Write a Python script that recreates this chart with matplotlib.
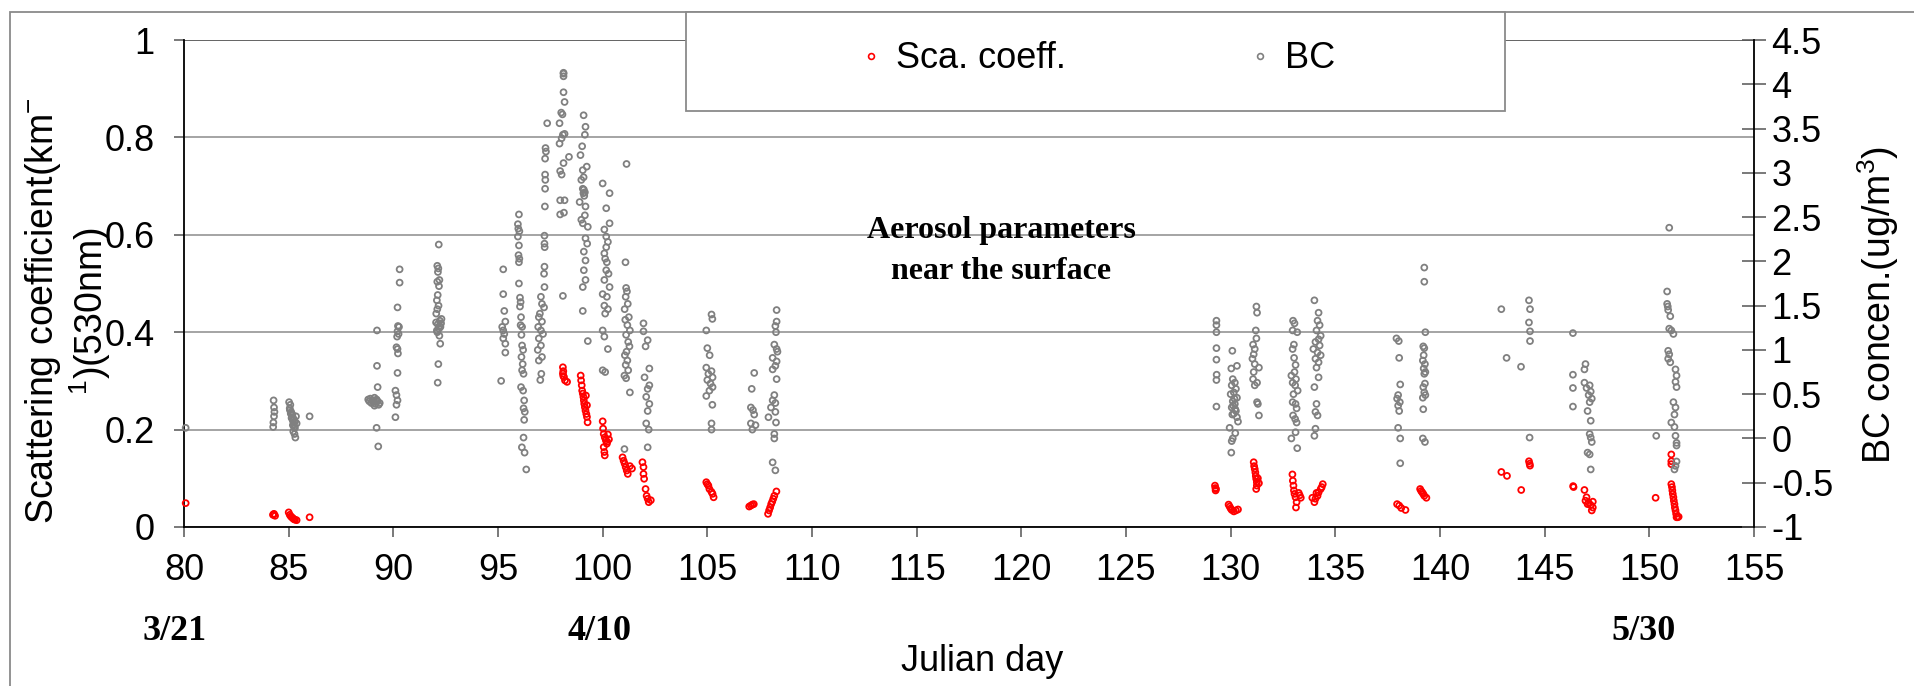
import numpy as np
import matplotlib
matplotlib.use("Agg")
import matplotlib.pyplot as plt
from matplotlib.patches import Rectangle
from matplotlib.lines import Line2D

plt.rcParams['font.family'] = ['Liberation Sans', 'DejaVu Sans']
plt.rcParams['mathtext.fontset'] = 'custom'
plt.rcParams['mathtext.rm'] = 'Liberation Sans'
plt.rcParams['mathtext.it'] = 'Liberation Sans:italic'
plt.rcParams['mathtext.bf'] = 'Liberation Sans:bold'

# ---- observations: (Julian day, value) ----
# Scattering coefficient at 530 nm (km^-1), left axis
sca_obs = [
    (80.08, 0.049),
    (84.25, 0.025), (84.30, 0.027), (84.35, 0.023), (84.28, 0.026),
    (85.00, 0.030), (85.05, 0.025), (85.10, 0.022), (85.15, 0.020), (85.20, 0.018),
    (85.25, 0.016), (85.30, 0.015), (85.38, 0.014),
    (86.00, 0.020),
    (98.10, 0.328), (98.12, 0.320), (98.10, 0.315), (98.15, 0.308), (98.20, 0.301),
    (98.30, 0.298), (98.12, 0.310),
    (98.95, 0.311), (98.97, 0.301), (99.00, 0.291), (99.02, 0.280), (99.05, 0.274),
    (99.08, 0.267), (99.10, 0.260), (99.12, 0.253), (99.15, 0.246), (99.18, 0.239),
    (99.22, 0.232), (99.25, 0.226), (99.28, 0.215), (99.20, 0.270), (99.25, 0.250),
    (100.00, 0.217), (100.02, 0.202), (100.05, 0.191), (100.10, 0.184), (100.15, 0.178),
    (100.20, 0.171), (100.05, 0.164), (100.08, 0.154), (100.10, 0.147), (100.25, 0.190),
    (100.30, 0.180), (100.22, 0.175),
    (100.95, 0.143), (101.00, 0.136), (101.05, 0.130), (101.10, 0.123), (101.15, 0.116),
    (101.20, 0.109), (101.30, 0.125), (101.40, 0.120),
    (101.90, 0.133), (101.95, 0.123), (101.95, 0.109), (101.98, 0.099), (102.05, 0.078),
    (102.10, 0.064), (102.15, 0.058), (102.20, 0.051), (102.30, 0.055),
    (104.95, 0.092), (105.00, 0.088), (105.05, 0.085), (105.10, 0.078), (105.20, 0.072),
    (105.25, 0.068), (105.30, 0.061),
    (107.00, 0.042), (107.08, 0.044), (107.15, 0.046), (107.22, 0.047),
    (107.90, 0.027), (107.95, 0.034), (108.00, 0.040), (108.05, 0.047), (108.10, 0.052),
    (108.15, 0.058), (108.20, 0.064), (108.30, 0.073),
    (129.25, 0.085), (129.27, 0.080), (129.30, 0.078), (129.28, 0.075),
    (129.90, 0.046), (129.95, 0.042), (130.00, 0.038), (130.05, 0.035), (130.15, 0.032),
    (130.25, 0.034), (130.35, 0.036),
    (131.10, 0.133), (131.12, 0.125), (131.15, 0.119), (131.18, 0.112), (131.20, 0.105),
    (131.22, 0.099), (131.25, 0.092), (131.25, 0.085), (131.22, 0.078), (131.30, 0.100),
    (131.35, 0.090),
    (132.95, 0.108), (132.97, 0.095), (133.00, 0.085), (133.02, 0.075), (133.05, 0.068),
    (133.10, 0.061), (133.15, 0.051), (133.12, 0.040), (133.25, 0.070), (133.30, 0.065),
    (133.35, 0.060),
    (133.90, 0.060), (134.00, 0.051), (134.05, 0.058), (134.15, 0.064), (134.20, 0.071),
    (134.30, 0.078), (134.35, 0.082), (134.40, 0.088), (134.10, 0.070),
    (137.95, 0.047), (138.05, 0.044), (138.15, 0.039), (138.35, 0.035),
    (139.05, 0.078), (139.10, 0.074), (139.15, 0.071), (139.20, 0.068), (139.25, 0.064),
    (139.35, 0.060),
    (142.93, 0.113), (143.20, 0.105), (143.88, 0.076), (144.25, 0.135), (144.28, 0.130),
    (144.30, 0.126),
    (146.36, 0.084), (146.38, 0.082), (146.90, 0.076), (147.00, 0.061), (146.95, 0.054),
    (147.10, 0.050), (147.20, 0.045), (147.30, 0.040), (147.25, 0.034), (147.05, 0.047),
    (147.30, 0.052),
    (150.30, 0.060),
    (151.05, 0.149), (151.05, 0.135), (151.05, 0.129), (151.05, 0.088), (151.08, 0.082),
    (151.10, 0.075), (151.12, 0.068), (151.15, 0.061), (151.17, 0.054), (151.20, 0.047),
    (151.22, 0.040), (151.25, 0.034), (151.28, 0.027), (151.30, 0.020), (151.35, 0.020),
    (151.40, 0.021),
]

# Black carbon concentration (ug/m^3), right axis
bc_obs = [
    (80.08, 0.12),
    (84.28, 0.43), (84.30, 0.35), (84.32, 0.30), (84.30, 0.25), (84.27, 0.18), (84.26, 0.13),
    (85.02, 0.41), (85.08, 0.38), (85.05, 0.34), (85.10, 0.28), (85.15, 0.24), (85.20, 0.20),
    (85.25, 0.16), (85.30, 0.12), (85.22, 0.08), (85.28, 0.05), (85.32, 0.01), (85.12, 0.30),
    (85.18, 0.27), (85.35, 0.25), (85.24, 0.22), (85.30, 0.19), (85.38, 0.17), (85.06, 0.32),
    (85.14, 0.23), (85.20, 0.15), (85.26, 0.13),
    (86.00, 0.25),
    (88.80, 0.44), (88.85, 0.42), (88.90, 0.45), (88.95, 0.40), (89.00, 0.43), (89.05, 0.41),
    (89.10, 0.46), (89.15, 0.39), (89.20, 0.44), (89.25, 0.42), (89.30, 0.38), (89.35, 0.40),
    (89.10, 0.37), (89.20, 0.43), (89.22, 0.82), (89.25, 0.58), (89.20, 0.12), (89.28, -0.09),
    (89.22, 1.22),
    (90.30, 1.91), (90.30, 1.76), (90.20, 1.48), (90.22, 1.27), (90.27, 1.26), (90.20, 1.21),
    (90.25, 1.18), (90.18, 1.15), (90.15, 1.03), (90.20, 1.01), (90.22, 0.96), (90.20, 0.74),
    (90.10, 0.54), (90.15, 0.49), (90.20, 0.43), (90.15, 0.38), (90.10, 0.24),
    (92.17, 2.19), (92.10, 1.95), (92.15, 1.92), (92.13, 1.88), (92.20, 1.79), (92.10, 1.77),
    (92.18, 1.72), (92.12, 1.62), (92.08, 1.56), (92.16, 1.50), (92.10, 1.46), (92.05, 1.41),
    (92.22, 1.33), (92.04, 1.31), (92.12, 1.29), (92.20, 1.27), (92.25, 1.26), (92.10, 1.20),
    (92.20, 1.16), (92.24, 1.07), (92.15, 0.84), (92.12, 0.63), (92.08, 1.22), (92.18, 1.24),
    (92.28, 1.30), (92.30, 1.35),
    (95.25, 1.91), (95.25, 1.63), (95.30, 1.44), (95.35, 1.32), (95.20, 1.26), (95.25, 1.22),
    (95.30, 1.18), (95.25, 1.13), (95.35, 1.07), (95.35, 0.97), (95.15, 0.65),
    (96.00, 2.53), (95.95, 2.42), (95.97, 2.37), (96.02, 2.34), (95.95, 2.28), (96.00, 2.18),
    (95.98, 2.07), (96.02, 2.03), (96.00, 1.99), (96.00, 1.75), (96.05, 1.59), (96.08, 1.54),
    (96.05, 1.49), (96.10, 1.37), (96.08, 1.28), (96.15, 1.26), (96.12, 1.17), (96.15, 1.05),
    (96.20, 1.00), (96.12, 0.92), (96.18, 0.84), (96.15, 0.77), (96.22, 0.73), (96.10, 0.58),
    (96.20, 0.54), (96.25, 0.43), (96.22, 0.34), (96.28, 0.30), (96.25, 0.21), (96.22, 0.01),
    (96.14, -0.10), (96.27, -0.16), (96.35, -0.35),
    (97.35, 3.56), (97.27, 3.28), (97.29, 3.24), (97.25, 3.16), (97.25, 2.98), (97.26, 2.92),
    (97.25, 2.82), (97.24, 2.62), (97.22, 2.29), (97.22, 2.20), (97.23, 2.16), (97.22, 1.94),
    (97.20, 1.86), (97.22, 1.71), (97.05, 1.60), (97.10, 1.52), (97.20, 1.48), (97.00, 1.41),
    (96.95, 1.37), (97.10, 1.32), (96.92, 1.26), (97.05, 1.22), (97.15, 1.18), (96.95, 1.13),
    (97.05, 1.05), (96.90, 1.00), (97.10, 0.92), (96.95, 0.88), (97.07, 0.73), (97.02, 0.66),
    (98.13, 4.13), (98.13, 4.12), (98.13, 4.09), (98.13, 3.91), (98.18, 3.80), (98.02, 3.68),
    (98.08, 3.66), (97.94, 3.56), (98.18, 3.44), (98.10, 3.43), (98.04, 3.39), (97.94, 3.33),
    (98.39, 3.18), (98.13, 3.11), (97.97, 3.02), (98.04, 2.98), (97.97, 2.69), (98.18, 2.69),
    (97.97, 2.53), (98.15, 2.55), (98.10, 1.61),
    (99.09, 3.65), (99.18, 3.52), (99.15, 3.43), (99.02, 3.30), (98.94, 3.20), (99.24, 3.07),
    (99.05, 3.03), (99.09, 2.95), (98.98, 2.92), (99.05, 2.82), (99.10, 2.81), (99.15, 2.78),
    (99.08, 2.77), (99.12, 2.74), (98.90, 2.67), (99.18, 2.62), (99.15, 2.52), (98.98, 2.47),
    (99.05, 2.43), (99.29, 2.39), (99.18, 2.26), (99.26, 2.20), (99.10, 2.11), (99.18, 2.01),
    (99.10, 1.90), (99.18, 1.79), (99.05, 1.71), (99.05, 1.44), (99.29, 1.10),
    (100.00, 2.88), (100.33, 2.77), (100.17, 2.60), (100.33, 2.43), (100.08, 2.36),
    (100.17, 2.28), (100.25, 2.22), (100.17, 2.16), (100.08, 2.09), (100.12, 2.03),
    (100.20, 1.99), (100.17, 1.90), (100.28, 1.86), (100.08, 1.79), (100.33, 1.71),
    (100.00, 1.63), (100.20, 1.60), (100.08, 1.50), (100.25, 1.46), (100.12, 1.41),
    (100.00, 1.22), (100.08, 1.15), (100.25, 1.01), (100.00, 0.77), (100.12, 0.75),
    (101.14, 3.10), (101.09, 1.99), (101.12, 1.70), (101.16, 1.66), (101.10, 1.60),
    (101.20, 1.52), (101.05, 1.46), (101.25, 1.37), (101.08, 1.34), (101.18, 1.28),
    (101.30, 1.22), (101.12, 1.17), (101.22, 1.09), (101.28, 1.04), (101.14, 0.98),
    (101.06, 0.94), (101.18, 0.88), (101.10, 0.83), (101.22, 0.77), (101.04, 0.71),
    (101.12, 0.68), (101.30, 0.52), (101.04, -0.12),
    (101.95, 1.30), (101.95, 1.21), (102.15, 1.11), (102.05, 1.04), (102.23, 0.79),
    (102.00, 0.69), (102.23, 0.60), (102.15, 0.56), (102.08, 0.47), (102.23, 0.39),
    (102.15, 0.31), (102.08, 0.17), (102.20, 0.10), (102.15, -0.10),
    (105.20, 1.40), (105.24, 1.35), (104.95, 1.22), (105.00, 1.02), (105.11, 0.94),
    (104.95, 0.80), (105.20, 0.76), (105.05, 0.73), (105.25, 0.69), (105.00, 0.66),
    (105.15, 0.62), (105.25, 0.58), (105.10, 0.54), (104.95, 0.48), (105.24, 0.38),
    (105.20, 0.17), (105.20, 0.10),
    (107.24, 0.74), (107.12, 0.56), (107.08, 0.35), (107.18, 0.32), (107.24, 0.27),
    (107.08, 0.17), (107.30, 0.15), (107.15, 0.10),
    (108.31, 1.45), (108.31, 1.32), (108.25, 1.27), (108.28, 1.20), (108.20, 1.06),
    (108.31, 1.01), (108.35, 0.98), (108.12, 0.91), (108.31, 0.87), (108.25, 0.82),
    (108.12, 0.78), (108.31, 0.67), (108.20, 0.49), (108.12, 0.43), (108.25, 0.40),
    (108.04, 0.35), (108.25, 0.30), (107.92, 0.24), (108.28, 0.18), (108.20, 0.05),
    (108.20, 0.00), (108.12, -0.27), (108.25, -0.36),
    (129.32, 1.33), (129.32, 1.28), (129.32, 1.20), (129.32, 1.02), (129.32, 0.89),
    (129.33, 0.72), (129.32, 0.66), (129.32, 0.36),
    (130.08, 0.99), (130.03, 0.79), (130.30, 0.82), (130.10, 0.67), (130.20, 0.63),
    (130.05, 0.60), (130.25, 0.56), (130.15, 0.52), (130.00, 0.50), (130.30, 0.46),
    (130.10, 0.42), (130.20, 0.39), (130.05, 0.35), (130.25, 0.31), (130.15, 0.28),
    (130.30, 0.24), (130.35, 0.19), (129.95, 0.12), (130.22, 0.06), (130.10, 0.00),
    (130.05, -0.03), (130.03, -0.16), (130.18, 0.45), (130.12, 0.37), (130.22, 0.33),
    (130.08, 0.27),
    (131.23, 1.49), (131.26, 1.42), (131.20, 1.22), (131.23, 1.13), (131.07, 1.06),
    (131.15, 1.01), (131.10, 0.95), (131.04, 0.90), (131.15, 0.84), (131.35, 0.80),
    (131.10, 0.75), (131.07, 0.67), (131.26, 0.63), (131.15, 0.60), (131.26, 0.41),
    (131.30, 0.39), (131.35, 0.26),
    (132.98, 1.33), (133.05, 1.30), (132.96, 1.22), (133.18, 1.20), (133.02, 1.06),
    (132.96, 1.01), (133.03, 0.91), (133.10, 0.83), (133.05, 0.75), (132.90, 0.71),
    (133.12, 0.67), (132.96, 0.63), (133.08, 0.60), (133.20, 0.54), (133.00, 0.50),
    (132.96, 0.41), (133.10, 0.39), (133.15, 0.34), (132.98, 0.26), (133.08, 0.22),
    (133.15, 0.18), (133.10, 0.07), (132.90, 0.00), (133.18, -0.11),
    (134.00, 1.56), (134.20, 1.42), (134.15, 1.33), (134.25, 1.28), (134.10, 1.22),
    (134.30, 1.16), (134.20, 1.12), (134.05, 1.09), (134.25, 1.05), (133.95, 1.01),
    (134.15, 0.97), (134.30, 0.94), (134.05, 0.90), (134.20, 0.86), (134.10, 0.80),
    (134.20, 0.69), (134.00, 0.58), (134.10, 0.39), (134.05, 0.30), (134.15, 0.26),
    (134.05, 0.11), (134.00, 0.03),
    (137.92, 1.13), (138.03, 1.10), (138.05, 0.91), (138.10, 0.61), (138.00, 0.49),
    (137.95, 0.45), (138.08, 0.41), (138.00, 0.37), (138.05, 0.31), (138.00, 0.12),
    (138.10, 0.00), (138.10, -0.28),
    (139.25, 1.93), (139.25, 1.77), (139.30, 1.20), (139.20, 1.04), (139.25, 1.02),
    (139.22, 0.94), (139.18, 0.88), (139.28, 0.84), (139.22, 0.79), (139.30, 0.75),
    (139.25, 0.73), (139.28, 0.62), (139.20, 0.58), (139.25, 0.52), (139.30, 0.49),
    (139.18, 0.46), (139.20, 0.33), (139.18, 0.00), (139.28, -0.04),
    (142.93, 1.46), (143.18, 0.91), (143.87, 0.81), (144.25, 1.56), (144.30, 1.46),
    (144.25, 1.31), (144.30, 1.21), (144.30, 1.10), (144.28, 0.01),
    (146.35, 1.19), (146.35, 0.72), (146.35, 0.57), (146.35, 0.36),
    (146.95, 0.84), (146.90, 0.78), (146.90, 0.63), (147.15, 0.60), (147.00, 0.57),
    (147.20, 0.53), (147.10, 0.49), (147.25, 0.45), (147.15, 0.41), (147.05, 0.31),
    (147.20, 0.20), (147.15, 0.05), (147.20, 0.01), (147.25, -0.04), (147.05, -0.16),
    (147.15, -0.18), (147.20, -0.35),
    (150.33, 0.03),
    (150.95, 2.38),
    (150.85, 1.66), (150.85, 1.52), (150.88, 1.49), (150.90, 1.45), (151.00, 1.38),
    (150.95, 1.24), (151.05, 1.22), (151.15, 1.18), (150.90, 0.99), (150.95, 0.95),
    (150.90, 0.90), (151.00, 0.86), (151.25, 0.78), (151.30, 0.71), (151.25, 0.64),
    (151.30, 0.58), (151.15, 0.41), (151.25, 0.35), (151.20, 0.27), (151.05, 0.18),
    (151.20, 0.13), (151.25, 0.03), (151.30, -0.05), (151.30, -0.08), (151.30, -0.26),
    (151.25, -0.31), (151.20, -0.35),
]

x_ticks = list(range(80, 156, 5))
left_ticks = [0, 0.2, 0.4, 0.6, 0.8, 1]
left_ticklabels = ['0', '0.2', '0.4', '0.6', '0.8', '1']
right_ticks = [-1, -0.5, 0, 0.5, 1, 1.5, 2, 2.5, 3, 3.5, 4, 4.5]
right_ticklabels = ['-1', '-0.5', '0', '0.5', '1', '1.5', '2', '2.5', '3', '3.5', '4', '4.5']
date_marks = [("3/21", 175), ("4/10", 600), ("5/30", 1644)]

RED = '#ff0000'
GRAY = '#808080'

W, H = 1914, 686
fig = plt.figure(figsize=(W / 100, H / 100), dpi=100)
fig.patch.set_facecolor('white')

# plot area in pixel coordinates
px_l, px_r, px_t, px_b = 184, 1754, 40, 527
ax = fig.add_axes([px_l / W, 1 - px_b / H, (px_r - px_l) / W, (px_b - px_t) / H])
ax2 = ax.twinx()

sca = np.array(sca_obs)
bc = np.array(bc_obs)

ax.scatter(sca[:, 0], sca[:, 1], s=18, facecolors='none', edgecolors=RED,
           linewidths=1.3, zorder=3, clip_on=False)
ax2.scatter(bc[:, 0], bc[:, 1], s=18, facecolors='none', edgecolors=GRAY,
            linewidths=1.3, zorder=3, clip_on=False)

ax.set_xlim(80, 155)
ax.set_ylim(0, 1)
ax2.set_ylim(-1, 4.5)

ax.set_xticks(x_ticks)
ax.set_xticklabels([str(v) for v in x_ticks])
ax.set_yticks(left_ticks)
ax.set_yticklabels(left_ticklabels)
ax2.set_yticks(right_ticks)
ax2.set_yticklabels(right_ticklabels)

ax.yaxis.grid(True, color='#8c8c8c', linewidth=1.1)
ax.set_axisbelow(True)
ax.axhline(1.0, color='#555555', linewidth=1.1, zorder=1)

for s in ['top', 'right']:
    ax.spines[s].set_visible(False)
for s in ['top', 'left', 'bottom']:
    ax2.spines[s].set_visible(False)
ax.spines['left'].set_color('black')
ax.spines['bottom'].set_color('black')
ax2.spines['right'].set_color('black')
for sp in (ax.spines['left'], ax.spines['bottom'], ax2.spines['right']):
    sp.set_linewidth(1.3)

ax.tick_params(axis='x', direction='out', length=7, width=1.1, color='#555555',
               labelsize=26, pad=12)
ax.tick_params(axis='y', direction='out', length=7, width=1.1, color='#555555',
               labelsize=26, pad=14)
ax2.tick_params(axis='y', direction='inout', length=17, width=1.1, color='#555555',
                labelsize=26, pad=4)

# axis titles
fig.text(68 / W, 1 - 311 / H,
         "Scattering coefficient(km$^{\\mathregular{-}}$\n$^{\\mathregular{1}}$)(530nm)",
         rotation=90, ha='center', va='center', multialignment='center',
         fontsize=27, linespacing=1.15)
fig.text(1878 / W, 1 - 305 / H, "BC concen.(ug/m$^{\\mathregular{3}}$)",
         rotation=90, ha='center', va='center', fontsize=27)
fig.text(982 / W, 1 - 671 / H, "Julian day", ha='center', va='baseline', fontsize=26)

for label, xpix in date_marks:
    fig.text(xpix / W, 1 - 640 / H, label, ha='center', va='baseline',
             family='Liberation Serif', weight='bold', fontsize=26)

fig.text(1001 / W, 1 - 251 / H, "Aerosol parameters\nnear the surface",
         ha='center', va='center', family='Liberation Serif', weight='bold',
         fontsize=23, linespacing=1.55)

# outer frame of the figure
fig.add_artist(Rectangle((10 / W, -0.2), 1.5, (H - 12) / H + 0.2,
                         transform=fig.transFigure, fill=False,
                         edgecolor='#8a8a8a', linewidth=1.3, clip_on=False))

# legend box
fig.add_artist(Rectangle((686 / W, 1 - 111 / H), (1505 - 686) / W, (111 - 12) / H,
                         transform=fig.transFigure, facecolor='white',
                         edgecolor='#8a8a8a', linewidth=1.3, zorder=4))
handles = [
    Line2D([], [], marker='o', ls='none', mfc='none', mec=RED, ms=4.2, mew=1.2),
    Line2D([], [], marker='o', ls='none', mfc='none', mec=GRAY, ms=4.2, mew=1.2),
]
leg = fig.legend(handles, ['Sca. coeff.', 'BC'], loc='center',
                 bbox_to_anchor=(1096 / W, 1 - 59 / H), ncol=2, frameon=False,
                 fontsize=26, handlelength=0.8, handletextpad=0.3,
                 columnspacing=4.96)
leg.set_zorder(5)

fig.savefig('out.png', dpi=100, facecolor='white')
